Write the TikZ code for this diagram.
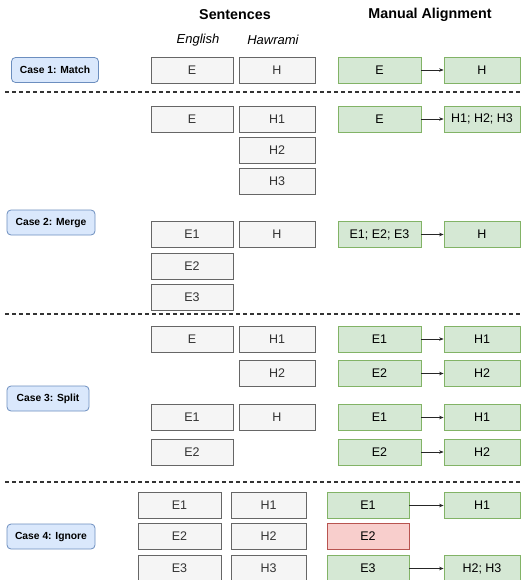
\documentclass[tikz,border=0pt]{standalone}
\usepackage{fontspec}
\setmainfont{Liberation Sans}
\usetikzlibrary{arrows.meta}
\definecolor{sfill}{HTML}{F5F5F5}
\definecolor{sline}{HTML}{666666}
\definecolor{stext}{HTML}{333333}
\definecolor{gfill}{HTML}{D5E8D4}
\definecolor{gline}{HTML}{82B366}
\definecolor{rfill}{HTML}{F8CECC}
\definecolor{rline}{HTML}{B85450}
\definecolor{bfill}{HTML}{DAE8FC}
\definecolor{bline}{HTML}{6C8EBF}
\definecolor{sepline}{HTML}{333333}
\tikzset{
  base/.style={rectangle, inner sep=0pt, minimum height=26pt, line width=0.8pt,
    font=\fontsize{12.5}{15}\selectfont},
  sentbox/.style={base, fill=sfill, draw=sline, text=stext},
  alignbox/.style={base, fill=gfill, draw=gline, text=black},
  dropbox/.style={base, fill=rfill, draw=rline, text=black},
  casebox/.style={rectangle, rounded corners=4pt, inner sep=0pt, minimum height=25pt,
    fill=bfill, draw=bline, line width=0.8pt, font=\bfseries\fontsize{10.3}{12}\selectfont},
  head/.style={font=\bfseries\fontsize{14.3}{17}\selectfont, inner sep=0pt},
  lang/.style={font=\itshape\fontsize{13}{15}\selectfont, inner sep=0pt},
  link/.style={draw=black!85, line width=0.6pt, -{Stealth[length=4.5pt,width=3.5pt]}},
  separator/.style={draw=sepline, line width=1.1pt, dash pattern=on 3.6pt off 3.4pt},
}
\begin{document}
\begin{tikzpicture}[x=1pt, y=-1pt]
\useasboundingbox (0,0) rectangle (526,580);
\clip (0,0) rectangle (526,580);

% column headers
\node[head] (hsent) at (235,15) {Sentences};
\node[head] (halign) at (430,15) {Manual Alignment};
\node[lang] (heng) at (198,40) {English};
\node[lang] (hhaw) at (273,40) {Hawrami};

% ---------- Case 1: one sentence to one sentence
\node[casebox, minimum width=87pt] (case1) at (55,70) {Case 1: Match};
\node[sentbox, minimum width=82pt] (m-e) at (192,70) {E};
\node[sentbox, minimum width=76pt] (m-h) at (277,70) {H};
\node[alignbox, minimum width=83pt] (m-ae) at (379.5,70) {E};
\node[alignbox, minimum width=76pt] (m-ah) at (482,70) {H};
\draw[link] (m-ae) -- (m-ah);

\coordinate (s1a) at (5,92);
\coordinate (s1b) at (521,92);
\draw[separator] (s1a) -- (s1b);

% ---------- Case 2: several sentences merged into one
\node[casebox, minimum width=88pt] (case2) at (51,222.5) {Case 2: Merge};
\node[sentbox, minimum width=82pt] (g-e) at (192,119) {E};
\node[sentbox, minimum width=76pt] (g-h1) at (277,119) {H1};
\node[sentbox, minimum width=76pt] (g-h2) at (277,150) {H2};
\node[sentbox, minimum width=76pt] (g-h3) at (277,181.5) {H3};
\node[alignbox, minimum width=83pt] (g-ae) at (379.5,119) {E};
\node[alignbox, minimum width=76pt] (g-ah) at (482,119) {H1; H2; H3};
\draw[link] (g-ae) -- (g-ah);

\node[sentbox, minimum width=82pt] (g-e1) at (192,234.5) {E1};
\node[sentbox, minimum width=82pt] (g-e2) at (192,266) {E2};
\node[sentbox, minimum width=82pt] (g-e3) at (192,297.5) {E3};
\node[sentbox, minimum width=76pt] (g-h) at (277,234.5) {H};
\node[alignbox, minimum width=83pt] (g-be) at (379.5,234.5) {E1; E2; E3};
\node[alignbox, minimum width=76pt] (g-bh) at (482,234.5) {H};
\draw[link] (g-be) -- (g-bh);

\coordinate (s2a) at (5,314);
\coordinate (s2b) at (521,314);
\draw[separator] (s2a) -- (s2b);

% ---------- Case 3: one sentence split into several
\node[casebox, minimum width=82pt] (case3) at (48,398.5) {Case 3: Split};
\node[sentbox, minimum width=82pt] (p-e) at (192,339) {E};
\node[sentbox, minimum width=76pt] (p-h1) at (277,339) {H1};
\node[sentbox, minimum width=76pt] (p-h2) at (277,373.5) {H2};
\node[alignbox, minimum width=83pt] (p-ae1) at (379.5,339) {E1};
\node[alignbox, minimum width=76pt] (p-ah1) at (482,339) {H1};
\node[alignbox, minimum width=83pt] (p-ae2) at (379.5,373.5) {E2};
\node[alignbox, minimum width=76pt] (p-ah2) at (482,373.5) {H2};
\draw[link] (p-ae1) -- (p-ah1);
\draw[link] (p-ae2) -- (p-ah2);

\node[sentbox, minimum width=82pt] (p-e1) at (192,417.5) {E1};
\node[sentbox, minimum width=82pt] (p-e2) at (192,452) {E2};
\node[sentbox, minimum width=76pt] (p-h) at (277,417.5) {H};
\node[alignbox, minimum width=83pt] (p-be1) at (379.5,417.5) {E1};
\node[alignbox, minimum width=76pt] (p-bh1) at (482,417.5) {H1};
\node[alignbox, minimum width=83pt] (p-be2) at (379.5,452) {E2};
\node[alignbox, minimum width=76pt] (p-bh2) at (482,452) {H2};
\draw[link] (p-be1) -- (p-bh1);
\draw[link] (p-be2) -- (p-bh2);

\coordinate (s3a) at (5,482);
\coordinate (s3b) at (521,482);
\draw[separator] (s3a) -- (s3b);

% ---------- Case 4: a sentence left without a counterpart
\node[casebox, minimum width=88pt] (case4) at (51,536.5) {Case 4: Ignore};
\node[sentbox, minimum width=83pt] (i-e1) at (179.5,505.5) {E1};
\node[sentbox, minimum width=83pt] (i-e2) at (179.5,536.5) {E2};
\node[sentbox, minimum width=83pt] (i-e3) at (179.5,568.5) {E3};
\node[sentbox, minimum width=75pt] (i-h1) at (268.5,505.5) {H1};
\node[sentbox, minimum width=75pt] (i-h2) at (268.5,536.5) {H2};
\node[sentbox, minimum width=75pt] (i-h3) at (268.5,568.5) {H3};
\node[alignbox, minimum width=82pt] (i-ae1) at (368,505.5) {E1};
\node[alignbox, minimum width=76pt] (i-ah1) at (482,505.5) {H1};
\node[dropbox, minimum width=82pt] (i-ae2) at (368,536.5) {E2};
\node[alignbox, minimum width=82pt] (i-ae3) at (368,568.5) {E3};
\node[alignbox, minimum width=76pt] (i-ah3) at (482,568.5) {H2; H3};
\draw[link] (i-ae1) -- (i-ah1);
\draw[link] (i-ae3) -- (i-ah3);
\end{tikzpicture}
\end{document}
